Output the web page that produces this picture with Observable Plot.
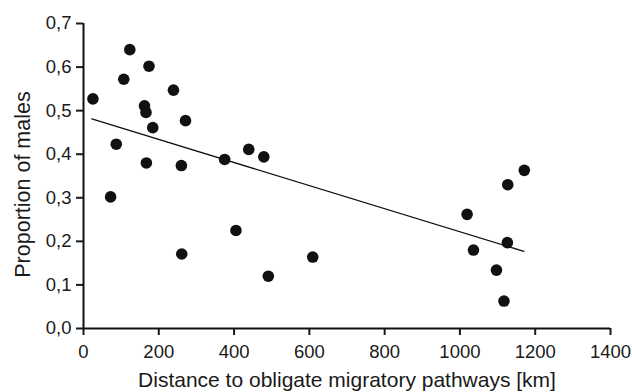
<!DOCTYPE html>
<html>
<head>
<meta charset="utf-8">
<script src="https://cdn.jsdelivr.net/npm/d3@7"></script>
<script src="https://cdn.jsdelivr.net/npm/@observablehq/plot@0.6"></script>
<style>
  html, body { margin: 0; padding: 0; background: #fff; }
</style>
</head>
<body>
<div id="chart"></div>
<script>
// Data
const distanceKm = [25, 72, 87, 107, 123, 162, 166, 167, 174, 184, 239, 260, 261, 271, 375, 405, 439, 479, 491, 609, 1019, 1036, 1097, 1117, 1126, 1127, 1171];
const proportionMales = [0.527, 0.302, 0.423, 0.572, 0.640, 0.511, 0.496, 0.380, 0.602, 0.461, 0.547, 0.374, 0.171, 0.477, 0.388, 0.225, 0.411, 0.394, 0.120, 0.164, 0.262, 0.180, 0.134, 0.063, 0.197, 0.330, 0.363];
// Fitted regression line end points
const trendX = [22, 1170];
const trendY = [0.481, 0.177];
// Ticks
const xTicks = [0, 200, 400, 600, 800, 1000, 1200, 1400];
const yTicks = [0, 0.1, 0.2, 0.3, 0.4, 0.5, 0.6, 0.7];
const xTitle = "Distance to obligate migratory pathways [km]";
const yTitle = "Proportion of males";

const points = distanceKm.map((d, i) => ({x: d, y: proportionMales[i]}));
const trend = trendX.map((d, i) => ({x: d, y: trendY[i]}));

const chart = Plot.plot({
  width: 632,
  height: 392,
  marginLeft: 83,
  marginRight: 22,
  marginTop: 23,
  marginBottom: 64,
  style: {fontFamily: "'Liberation Sans', Arial, sans-serif", color: "#1a1a1a", background: "#fff"},
  x: {domain: [0, 1400]},
  y: {domain: [0, 0.7]},
  marks: [
    Plot.axisX({ticks: xTicks, tickSize: 7, tickPadding: 9, strokeWidth: 2, fontSize: 18.5, label: null, tickFormat: d => String(d)}),
    Plot.axisY({ticks: yTicks, tickSize: 7, tickPadding: 5, strokeWidth: 2, fontSize: 18.5, label: null, tickFormat: d => d.toFixed(1).replace(".", ",")}),
    Plot.ruleX([0], {stroke: "#111", strokeWidth: 2}),
    Plot.ruleY([0], {stroke: "#111", strokeWidth: 2}),
    Plot.line(trend, {x: "x", y: "y", stroke: "#111", strokeWidth: 1.3}),
    Plot.dot(points, {x: "x", y: "y", r: 5.8, fill: "#111", stroke: "none"}),
    Plot.text([xTitle], {frameAnchor: "bottom", textAnchor: "middle", dy: 51.5, lineAnchor: "middle", fontSize: 21, fill: "#1a1a1a"}),
    Plot.text([yTitle], {frameAnchor: "left", textAnchor: "middle", rotate: -90, dx: -60.4, dy: 8.5, lineAnchor: "middle", fontSize: 21.5, fill: "#1a1a1a"})
  ]
});
document.getElementById("chart").appendChild(chart);
</script>
</body>
</html>
